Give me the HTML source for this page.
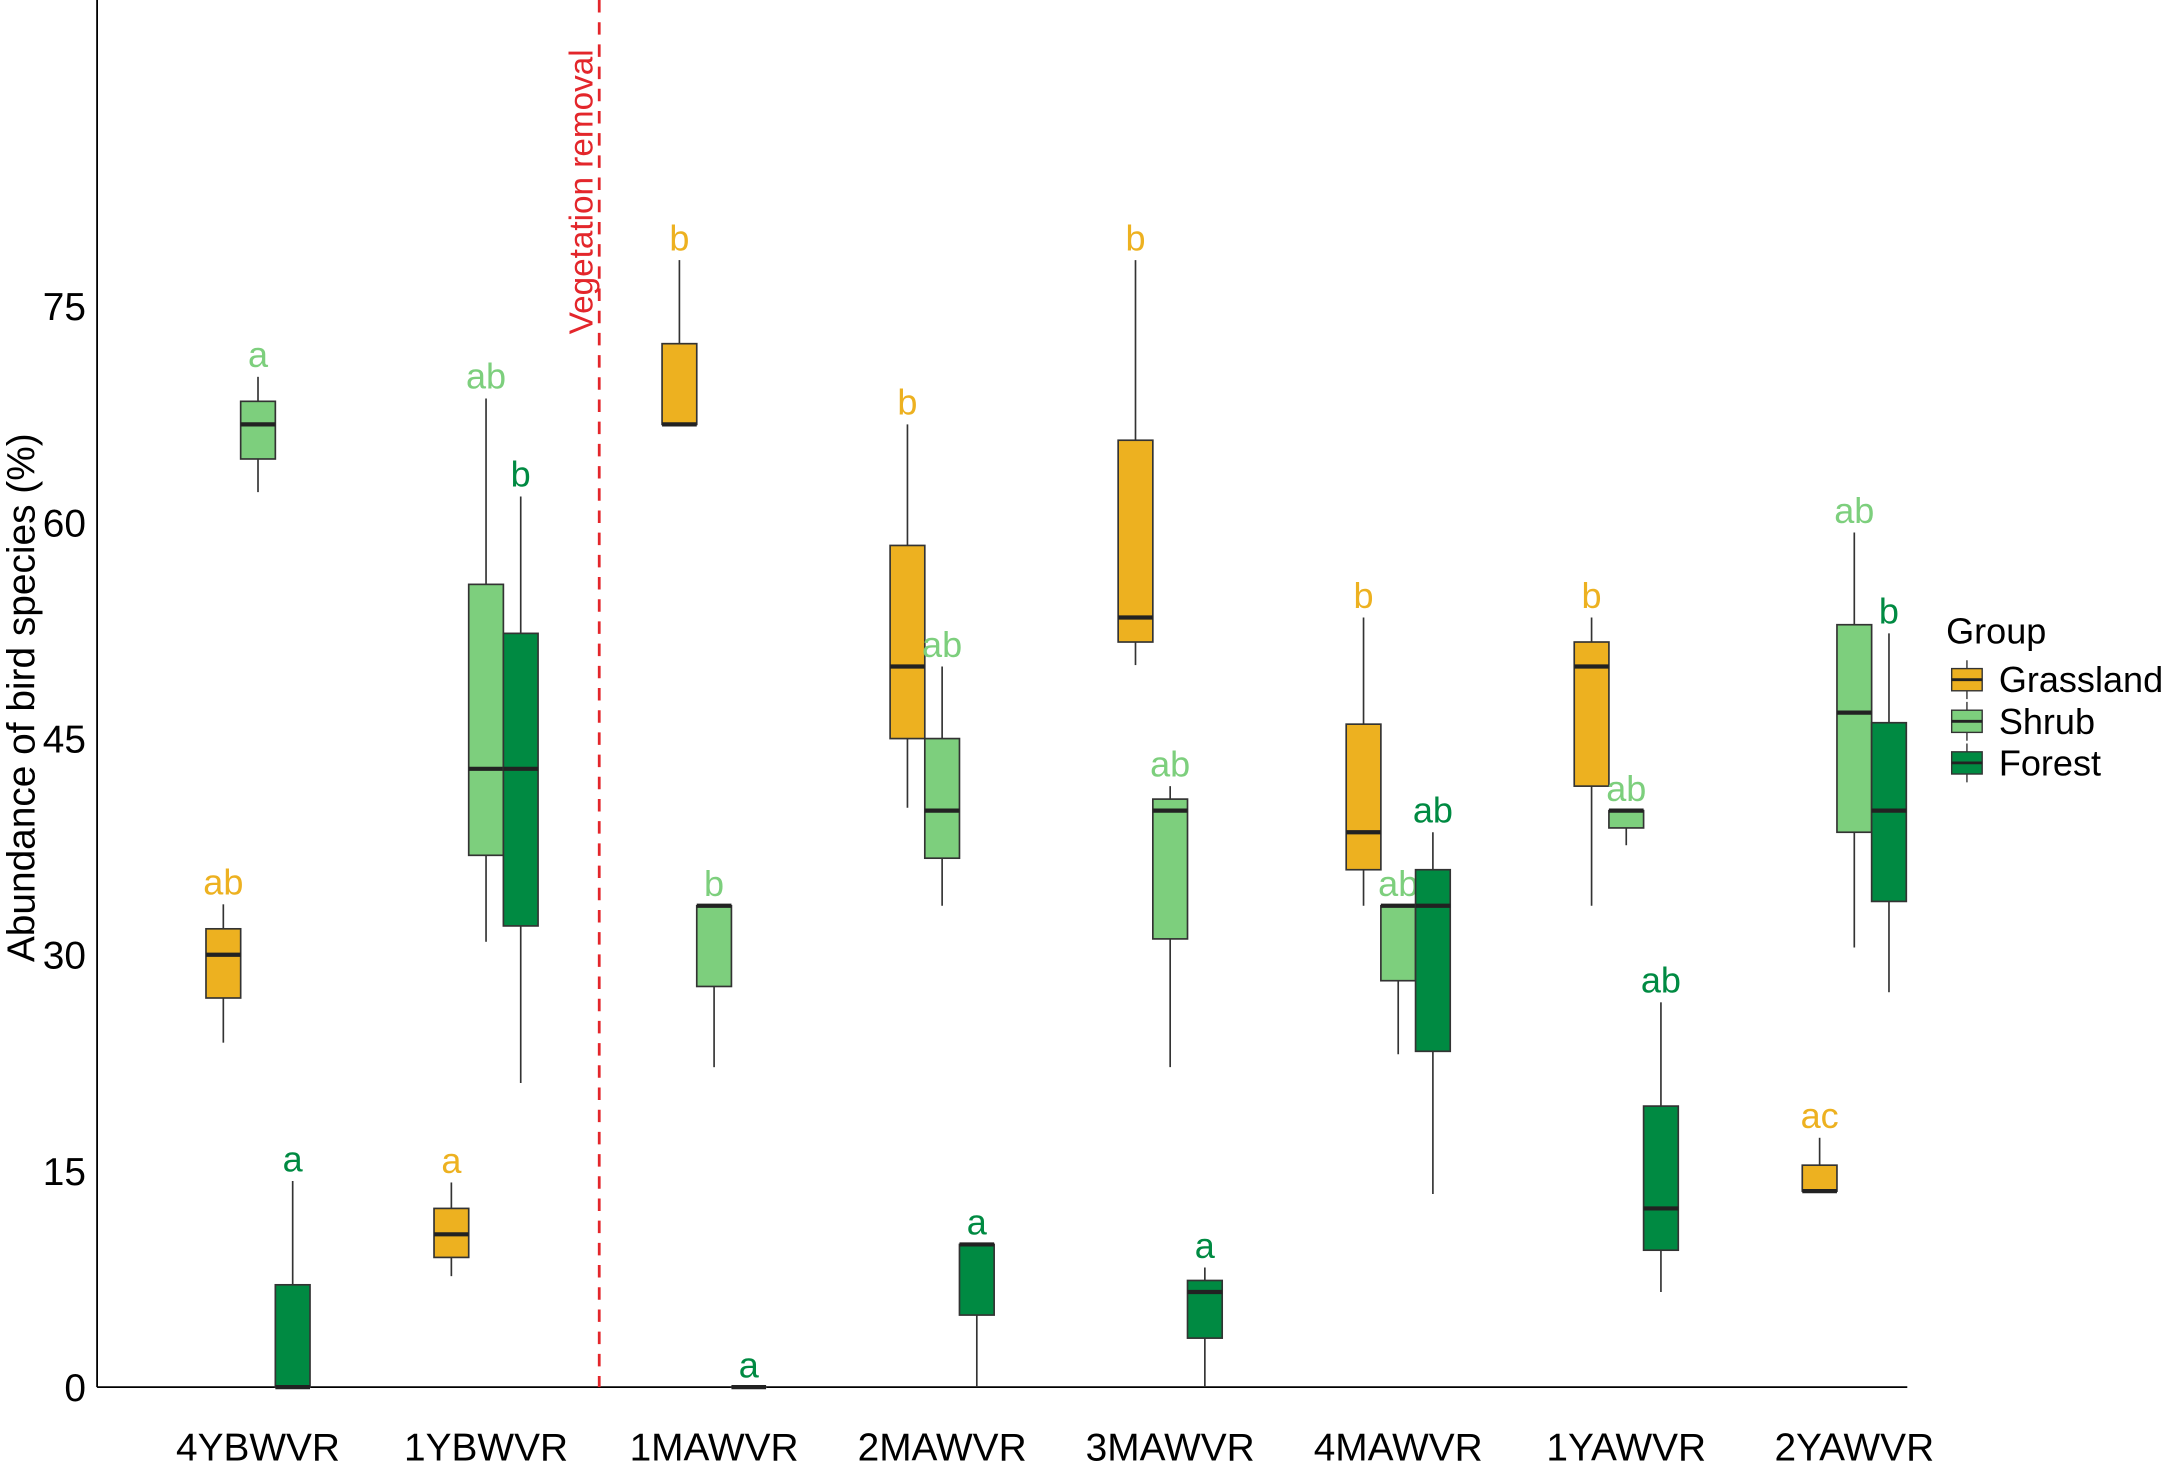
<!DOCTYPE html>
<html><head><meta charset="utf-8"><style>html,body{margin:0;padding:0;background:#fff}svg{display:block}</style></head>
<body>
<svg id="chart" width="2175" height="1463" viewBox="0 0 1568 1054.7" preserveAspectRatio="none" xmlns="http://www.w3.org/2000/svg" font-family="Liberation Sans, Arial, sans-serif">
<g id="plot"></g>
</svg>
<script>
const categories = ["4YBWVR","1YBWVR","1MAWVR","2MAWVR","3MAWVR","4MAWVR","1YAWVR","2YAWVR"];
const groups = ["Grassland","Shrub","Forest"];
const yTicks = [0,15,30,45,60,75];
// [low, q1, median, q3, high] per category
const grassland = [[23.9,27.0,30.0,31.8,33.5],[7.7,9.0,10.6,12.4,14.2],[66.8,66.8,66.8,72.4,78.2],[40.2,45.0,50.0,58.4,66.8],[50.1,51.7,53.4,65.7,78.2],[33.4,35.9,38.5,46.0,53.4],[33.4,41.7,50.0,51.7,53.4],[13.6,13.6,13.6,15.4,17.3]];
const shrub = [[62.1,64.4,66.8,68.4,70.1],[30.9,36.9,42.9,55.7,68.6],[22.2,27.8,33.4,33.4,33.4],[33.4,36.7,40.0,45.0,50.0],[22.2,31.1,40.0,40.8,41.7],[23.1,28.2,33.4,33.4,33.4],[37.6,38.8,40.0,40.0,40.0],[30.5,38.5,46.8,52.9,59.3]];
const forest = [[0,0,0,7.1,14.3],[21.1,32.0,42.9,52.3,61.8],[0,0,0,0,0],[0,5.0,9.9,9.9,9.9],[0,3.4,6.6,7.4,8.3],[13.4,23.3,33.4,35.9,38.5],[6.6,9.5,12.4,19.5,26.7],[27.4,33.7,40.0,46.1,52.3]];
const grasslandLetters = ["ab","a","b","b","b","b","b","ac"];
const shrubLetters = ["a","ab","b","ab","ab","ab","ab","ab"];
const forestLetters = ["a","b","a","a","a","ab","ab","b"];

const NS="http://www.w3.org/2000/svg";
const g=document.getElementById('plot');
const X0=70,X1=1375,Y0=1000;
const y=v=>Y0-v*10.39;
const xc=i=>186+i*164.4;
const colors=["#EDB120","#7DCF7D","#008A42"];
const series=[grassland,shrub,forest];
const letters=[grasslandLetters,shrubLetters,forestLetters];
function mk(tag,attrs,parent){const e=document.createElementNS(NS,tag);for(const k in attrs)e.setAttribute(k,attrs[k]);(parent||g).appendChild(e);return e;}

let e=mk('line',{x1:X0,y1:0,x2:X0,y2:Y0,stroke:'#000','stroke-width':1.3});


e=mk('line',{x1:X0,y1:Y0,x2:X1,y2:Y0,stroke:'#000','stroke-width':1.3});


yTicks.forEach(t=>{
  const tx=mk('text',{x:62,y:y(t)+10,'text-anchor':'end','font-size':28,fill:'#000'});
  tx.textContent=t;
  
  
});
categories.forEach((c,i)=>{
  const tx=mk('text',{x:xc(i),y:1053,'text-anchor':'middle','font-size':28,fill:'#000'});
  tx.textContent=c;
  
  
});
e=mk('text',{x:0,y:0,transform:'translate(25,503) rotate(-90)','text-anchor':'middle','font-size':28,fill:'#000'});
e.textContent='Abundance of bird species (%)';



e=mk('line',{x1:432,y1:0,x2:432,y2:Y0,stroke:'#E3262B','stroke-width':2,'stroke-dasharray':'9,7'});


e=mk('text',{x:0,y:0,transform:'translate(427,241) rotate(-90)','font-size':24,fill:'#E3262B'});
e.textContent='Vegetation removal';



const W=25;
series.forEach((s,gi)=>{
  s.forEach((d,i)=>{
    const cx=xc(i)+(gi-1)*25;
    const [lo,q1,md,q3,hi]=d;
    const bg=mk('g',{});
    
    
    mk('line',{x1:cx,y1:y(hi),x2:cx,y2:y(q3),stroke:'#333','stroke-width':1.2},bg);
    mk('line',{x1:cx,y1:y(q1),x2:cx,y2:y(lo),stroke:'#333','stroke-width':1.2},bg);
    mk('rect',{x:cx-W/2,y:y(q3),width:W,height:Math.max(0.01,y(q1)-y(q3)),fill:colors[gi],stroke:'#333','stroke-width':1.2},bg);
    mk('line',{x1:cx-W/2,y1:y(md),x2:cx+W/2,y2:y(md),stroke:'#222','stroke-width':3},bg);
    const t=mk('text',{x:cx,y:y(hi)-7,'text-anchor':'middle','font-size':26,fill:colors[gi]});
    t.textContent=letters[gi][i];
    
    
  });
});

const lg=mk('g',{});


e=mk('text',{x:1403,y:464,'font-size':26,fill:'#000'},lg);
e.textContent='Group';


groups.forEach((n,gi)=>{
  const cy=490+gi*30;
  const en=mk('g',{},lg);
  
  
  mk('line',{x1:1418,y1:cy-14,x2:1418,y2:cy+14,stroke:'#333','stroke-width':1},en);
  mk('rect',{x:1407,y:cy-8,width:22,height:16,fill:colors[gi],stroke:'#333','stroke-width':1},en);
  mk('line',{x1:1407,y1:cy,x2:1429,y2:cy,stroke:'#222','stroke-width':2},en);
  const t=mk('text',{x:1441,y:cy+9,'font-size':26,fill:'#000'},en);
  t.textContent=n;
});
</script>
</body></html>
